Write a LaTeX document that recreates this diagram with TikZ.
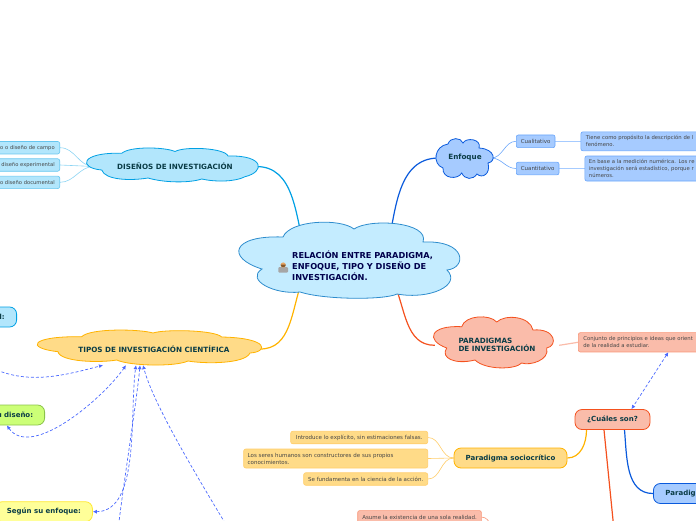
\documentclass[tikz,border=0pt]{standalone}
\usepackage{fontspec}
\setmainfont{DejaVu Sans}
\usetikzlibrary{arrows.meta,calc,positioning}
\definecolor{skyFill}{RGB}{178,230,252}
\definecolor{skyLine}{RGB}{0,160,228}
\definecolor{mainFill}{RGB}{196,236,255}
\definecolor{mainLine}{RGB}{45,140,205}
\definecolor{blueFill}{RGB}{166,203,255}
\definecolor{blueLine}{RGB}{10,90,220}
\definecolor{blueSoft}{RGB}{105,165,250}
\definecolor{redFill}{RGB}{250,188,170}
\definecolor{redLine}{RGB}{244,81,30}
\definecolor{redSoft}{RGB}{248,150,120}
\definecolor{amberFill}{RGB}{255,219,136}
\definecolor{amberLine}{RGB}{255,179,0}
\definecolor{amberSoft}{RGB}{255,205,105}
\definecolor{limeFill}{RGB}{204,255,119}
\definecolor{limeLine}{RGB}{139,195,74}
\definecolor{lemonFill}{RGB}{255,255,153}
\definecolor{lemonLine}{RGB}{255,233,51}
\definecolor{headText}{RGB}{10,60,70}
\definecolor{leafText}{RGB}{70,70,70}
\definecolor{crossBlue}{RGB}{75,105,254}
\tikzset{cloudline/.style={line width=.8pt}}
\tikzset{cloudlabel/.style={align=left, inner sep=0pt, text=headText, font=\fontsize{7.2}{8}\selectfont\bfseries}}
\tikzset{topic/.style={draw, line width=.8pt, align=center, inner sep=0pt, minimum height=20pt, rounded corners=7pt, text=headText, font=\fontsize{7}{8}\selectfont\bfseries}}
\tikzset{leaf/.style={draw, line width=.6pt, inner sep=0pt, rounded corners=2pt, text=leafText, font=\fontsize{5.5}{7}\selectfont}}
\tikzset{leaflong/.style={leaf, font=\fontsize{5.3}{7}\selectfont}}
\tikzset{leafskyleft/.style={leaf, fill=skyFill, draw=skyLine!60, anchor=east, minimum width=90pt, minimum height=12.5pt, text width=80pt, align=right, font=\fontsize{5.2}{7}\selectfont}}
\tikzset{leafamber/.style={leaf, fill=amberFill, draw=amberSoft, anchor=east, minimum height=12.5pt, align=left}}
\tikzset{leafblue/.style={leaf, fill=blueFill, draw=blueSoft, align=left}}
\tikzset{mainlink/.style={line width=1.2pt}}
\tikzset{softlink/.style={line width=.6pt}}
\tikzstyle{crossarrow} = [{Latex[length=4pt,width=4pt]}-{Latex[length=4pt,width=4pt]}, crossBlue, line width=.7pt, densely dashed]
\tikzstyle{endarrow} = [-{Latex[length=4pt,width=4pt]}, crossBlue, line width=.7pt, densely dashed]

\begin{document}
\begin{tikzpicture}[x=1pt, y=-1pt]
	\pgfdeclarelayer{background}
	\pgfsetlayers{background,main}
	\useasboundingbox (0,0) rectangle (696,520);

	% Clouds
	\draw [cloudline, fill=mainFill, draw=mainLine] (283,237) .. controls (290,220) and (340,218) .. (354,229)
		.. controls (370,218) and (430,222) .. (423,242) .. controls (467,240) and (467,268) .. (447,270)
		.. controls (462,285) and (430,300) .. (397,294) .. controls (385,300) and (325,300) .. (300,292)
		.. controls (275,295) and (245,280) .. (262,269) .. controls (226,258) and (231,235) .. (283,237) -- cycle;
	\draw [cloudline, fill=skyFill, draw=skyLine] (101.7,170) .. controls (78,168) and (80,152) .. (121.7,153.3)
		.. controls (130,146) and (165,147) .. (175,151.5) .. controls (185,146) and (225,148) .. (228,156)
		.. controls (265,155) and (265,172) .. (245,176.7) .. controls (235,182) and (215,182) .. (201.7,179)
		.. controls (190,183) and (165,183) .. (148,178) .. controls (130,181) and (105,180) .. (101.7,170) -- cycle;
	\draw [cloudline, fill=amberFill, draw=amberLine] (58,351.7) .. controls (25,348) and (30,336) .. (81.7,336.7)
		.. controls (90,328) and (140,329) .. (153,333) .. controls (165,329) and (215,330) .. (221.7,337)
		.. controls (270,338) and (268,352) .. (250,353) .. controls (245,364) and (205,364) .. (188,361)
		.. controls (175,367) and (130,366) .. (116.7,360) .. controls (100,363) and (60,362) .. (58,351.7) -- cycle;
	\draw [cloudline, fill=blueFill, draw=blueLine] (448,144) .. controls (450,137) and (461,137) .. (463,143)
		.. controls (466,137) and (482,139) .. (479,148) .. controls (496,149) and (496,162) .. (488,163)
		.. controls (491,174) and (482,179) .. (477,174) .. controls (473,180) and (465,180) .. (461.7,173)
		.. controls (458,180) and (442,179) .. (443,168) .. controls (432,164) and (434,146) .. (448,144) -- cycle;
	\draw [cloudline, fill=redFill, draw=redLine] (461.7,326.7) .. controls (465,315) and (490,314) .. (496.7,322)
		.. controls (505,314) and (530,316) .. (533,330) .. controls (556,328) and (558,346) .. (546.7,348)
		.. controls (550,360) and (530,366) .. (521.7,363) .. controls (515,370) and (485,370) .. (475,360)
		.. controls (455,365) and (440,358) .. (446.7,348) .. controls (425,340) and (430,325) .. (461.7,326.7) -- cycle;

	% Icon
	\fill [black!35, rounded corners=1pt] (278.3,267) rectangle (288,272.7);
	\fill [orange!45!brown!70] (283.2,265) circle (2.6pt);
	\fill [brown!70!black] (280.6,264.6) arc (180:360:2.6pt) -- cycle;

	% Nodes
	\node (main) [cloudlabel, text=blue!30!black, anchor=west, font=\fontsize{8.2}{11}\selectfont\bfseries] at (292,266) {RELACIÓN ENTRE PARADIGMA,\\ENFOQUE, TIPO Y DISEÑO DE\\INVESTIGACIÓN.};

	\node (disenos) [cloudlabel, minimum width=162pt, minimum height=30pt, align=center] at (175,166.5) {DISEÑOS DE INVESTIGACIÓN};
	\node (campo) [leafskyleft] at (60,147.7) {o o diseño de campo};
	\node (experimental) [leafskyleft] at (60,165) {diseño experimental};
	\node (documental) [leafskyleft] at (60,182.3) {o diseño documental};

	\node (tipos) [cloudlabel, minimum width=212pt, minimum height=32pt, align=center] at (154,349) {TIPOS DE INVESTIGACIÓN CIENTÍFICA};
	\node (alcance) [topic, fill=skyFill, draw=skyLine, anchor=east, minimum width=60pt, text width=36pt, align=right] at (17,317) {d:};
	\node (segundiseno) [topic, fill=limeFill, draw=limeLine, anchor=east, minimum width=80pt, text width=57pt, align=right] at (45,415) {u diseño:};
	\node (segunenfoque) [topic, fill=lemonFill, draw=lemonLine, anchor=west, minimum width=97pt] at (-5,511.7) {Según su enfoque:};

	\node (enfoque) [cloudlabel, minimum width=52pt] at (465,158) {Enfoque};
	\node (cualitativo) [leafblue, anchor=west, minimum width=38.7pt, minimum height=12.7pt, align=center] at (516,141.3) {Cualitativo};
	\node (cuantitativo) [leafblue, anchor=west, minimum width=42.7pt, minimum height=12.7pt, align=center] at (516,168.5) {Cuantitativo};
	\node (descripcion) [leafblue, leaflong, anchor=west, minimum height=19pt, text width=150pt, right=25.3pt of cualitativo] {\hspace*{5pt}Tiene como propósito la descripción de l\\\hspace*{5pt}fenómeno.};
	\node (medicion) [leafblue, leaflong, anchor=west, minimum height=25pt, text width=150pt, right=25.3pt of cuantitativo] {\hspace*{4pt}En base a la medición numérica. Los re\\\hspace*{4pt}investigación será estadístico, porque r\\\hspace*{4pt}números.};

	\node (paradigmas) [cloudlabel, minimum width=124pt, minimum height=24pt] at (497,345.3) {PARADIGMAS\\DE INVESTIGACIÓN};
	\node (conjunto) [leaf, leaflong, fill=redFill, draw=redSoft, anchor=west, minimum height=19.3pt, text width=150pt, align=left] at (578,342.3) {\hspace*{5pt}Conjunto de principios e ideas que orient\\\hspace*{5pt}de la realidad a estudiar.};
	\node (cuales) [topic, fill=redFill, draw=redLine, minimum width=75pt] at (612.5,419.5) {¿Cuáles son?};
	\node (sociocritico) [topic, fill=amberFill, draw=amberLine, minimum width=113pt] at (510.5,458) {Paradigma sociocrítico};
	\node (paradigmablue) [topic, fill=blueFill, draw=blueLine, anchor=west, minimum width=80pt, text width=70pt, align=left] at (653,493.5) {\hspace*{7pt}Paradig};

	\node (explicito) [leafamber, minimum width=137pt, align=center] at (428,437.5) {Introduce lo explícito, sin estimaciones falsas.};
	\node (constructores) [leafamber, minimum width=184pt, minimum height=19pt, text width=176pt] at (428,458.5) {Los seres humanos son constructores de sus propios\\conocimientos.};
	\node (fundamenta) [leafamber, minimum width=124pt, align=center] at (428,479) {Se fundamenta en la ciencia de la acción.};
	\node (asume) [leaf, fill=redFill, draw=redSoft, anchor=north east, minimum width=123.7pt, minimum height=13pt, align=center] at (481.7,510.3) {Asume la existencia de una sola realidad.};

	\coordinate (offred) at (618,570);
	\coordinate (offsoft) at (500,532);
	\coordinate (offleft) at (-25,358);
	\coordinate (offbelow) at (117,540);
	\coordinate (offright) at (238,545);

	% Connectors
	\begin{pgfonlayer}{background}
		\draw [mainlink, skyLine] (disenos.east) to[out=0, in=105] ([xshift=13pt]main.north west);
		\draw [mainlink, blueLine] (enfoque.west) to[out=180, in=78] ([xshift=-46pt]main.north east);
		\draw [mainlink, amberLine] (tipos.east) to[out=0, in=250] ([xshift=10pt]main.south west);
		\draw [mainlink, redLine] (paradigmas.west) to[out=180, in=295] ([xshift=-40pt]main.south east);

		\draw [softlink, skyLine!45] (campo.east) to[out=0, in=180] (disenos.west);
		\draw [softlink, skyLine!45] (experimental.east) -- (disenos.west);
		\draw [softlink, skyLine!45] (documental.east) to[out=0, in=180] (disenos.west);

		\draw [softlink, blueSoft] (enfoque.east) to[out=0, in=180] (cualitativo.west);
		\draw [softlink, blueSoft] (enfoque.east) to[out=0, in=180] (cuantitativo.west);
		\draw [mainlink, blueFill] (cualitativo.east) -- (descripcion.west);
		\draw [mainlink, blueFill] (cuantitativo.east) -- (medicion.west);
		\draw [mainlink, redFill] (paradigmas.east) -- (conjunto.west);

		\draw [mainlink, amberLine] ([xshift=-26pt]cuales.south) to[out=270, in=0] (sociocritico.east);
		\draw [mainlink, blueLine] ([xshift=12pt]cuales.south) to[out=275, in=180] (paradigmablue.west);
		\draw [mainlink, redLine] ([xshift=-8.5pt]cuales.south) -- (offred);

		\draw [softlink, amberSoft] (sociocritico.west) to[out=180, in=0] (explicito.east);
		\draw [softlink, amberSoft] (sociocritico.west) -- (constructores.east);
		\draw [softlink, amberSoft] (sociocritico.west) to[out=180, in=0] (fundamenta.east);
		\draw [softlink, redSoft] (asume.east) to[out=0, in=180] (offsoft);
	\end{pgfonlayer}

	\draw [crossarrow] ([xshift=15pt]conjunto.south) -- ([xshift=19pt]cuales.north);
	\draw [endarrow] (offleft) to[out=-35, in=195] ([xshift=-51pt]tipos.south);
	\draw [crossarrow] ([xshift=2.3pt]segundiseno.south) to[out=-55, in=235, looseness=.8] ([xshift=-28pt]tipos.south);
	\draw [crossarrow] (segunenfoque.east) to[out=0, in=262, looseness=.8] ([xshift=-18pt]tipos.south);
	\draw [endarrow] (offbelow) to[out=85, in=265, looseness=.5] ([xshift=-14pt]tipos.south);
	\draw [endarrow] (offright) to[out=120, in=285, looseness=.6] ([xshift=-11pt]tipos.south);
\end{tikzpicture}
\end{document}
